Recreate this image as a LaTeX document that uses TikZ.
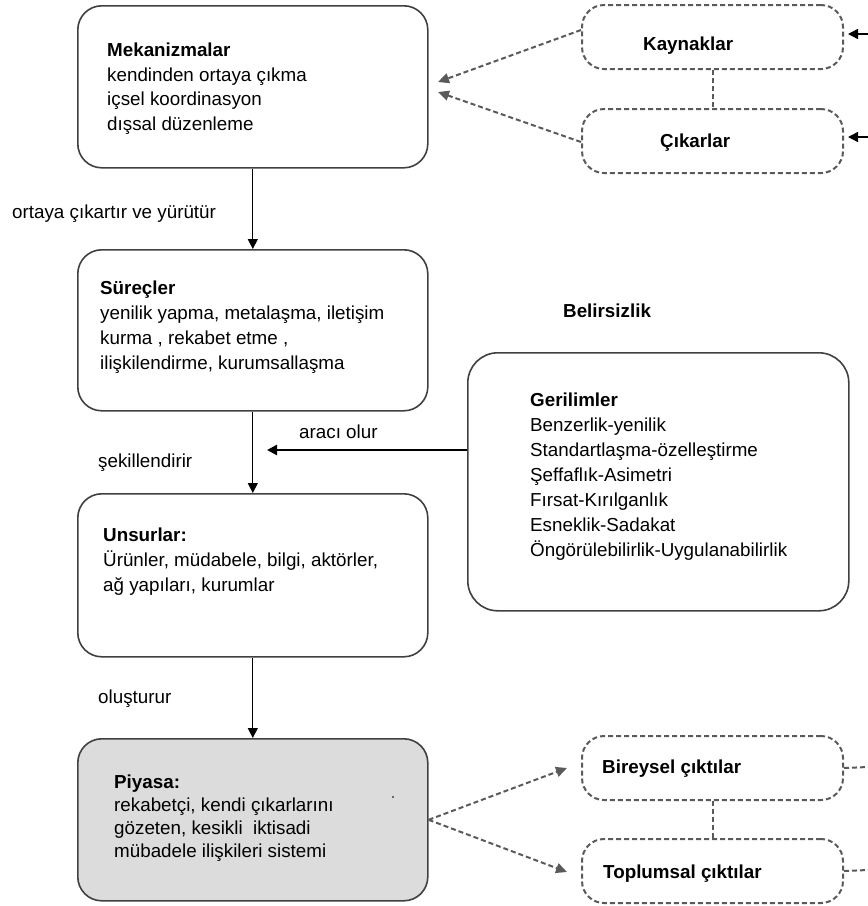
\documentclass[tikz,border=0pt]{standalone}
\usepackage{fontspec}
\setmainfont{Liberation Sans}
\usetikzlibrary{arrows.meta}
\definecolor{boxc}{HTML}{404040}
\definecolor{dashc}{HTML}{5A5A5A}
\definecolor{piyfill}{HTML}{DCDCDC}
\begin{document}
\begin{tikzpicture}[x=1pt,y=-1pt,
  box/.style={draw=boxc, line width=1.6pt, rounded corners=24pt, anchor=north west, inner sep=0pt},
  gbox/.style={box, rounded corners=30pt},
  dbox/.style={draw=dashc, line width=2pt, dash pattern=on 5pt off 3pt, rounded corners=22pt, anchor=north west, inner sep=0pt},
  txt/.style={anchor=north west, inner sep=0pt, align=left, font=\fontsize{18.8}{25}\selectfont},
  lbl/.style={anchor=base west, inner sep=0pt, font=\fontsize{18.8}{22}\selectfont},
  blbl/.style={lbl, font=\fontsize{18.8}{22}\selectfont\bfseries},
  arr/.style={draw=black, line width=1.2pt, -{Triangle[length=10pt,width=10pt]}},
  darr/.style={draw=dashc, line width=2pt, dash pattern=on 5pt off 3pt, -{Triangle[length=11pt,width=10pt]}},
  dline/.style={draw=dashc, line width=2pt, dash pattern=on 5pt off 3pt},
]
\useasboundingbox (0,0) rectangle (868,906);
% main boxes
\node[box, minimum width=350pt, minimum height=162pt] (mek) at (77,5) {};
\node[box, minimum width=350pt, minimum height=161pt] (sur) at (77,249) {};
\node[box, minimum width=350pt, minimum height=163pt] (uns) at (77,493) {};
\node[box, fill=piyfill, minimum width=350pt, minimum height=162pt] (piy) at (77,738) {};
\node[gbox, minimum width=381pt, minimum height=258pt] (ger) at (467,352) {};
% dashed boxes
\node[dbox, minimum width=261pt, minimum height=64pt] (kay) at (581,4) {};
\node[dbox, minimum width=261pt, minimum height=64pt] (cik) at (581,108) {};
\node[dbox, minimum width=261pt, minimum height=64pt] (bir) at (581,735) {};
\node[dbox, minimum width=261pt, minimum height=64pt] (top) at (581,838) {};
% texts
\node[txt, font=\fontsize{18.8}{24.5}\selectfont] (mektxt) at (107,43) {\textbf{Mekanizmalar}\\kendinden ortaya çıkma\\içsel koordinasyon\\dışsal düzenleme};
\node[txt] (surtxt) at (100,281) {\textbf{Süreçler}\\yenilik yapma, metalaşma, iletişim\\kurma , rekabet etme ,\\ilişkilendirme, kurumsallaşma};
\node[txt] (unstxt) at (103,528) {\textbf{Unsurlar:}\\Ürünler, müdabele, bilgi, aktörler,\\ağ yapıları, kurumlar};
\node[txt, font=\fontsize{18.8}{23}\selectfont] (piytxt) at (114,775) {\textbf{Piyasa:}\\rekabetçi, kendi çıkarlarını\\gözeten, kesikli\ \ iktisadi\\mübadele ilişkileri sistemi};
\node[txt] (gertxt) at (530,393) {\textbf{Gerilimler}\\Benzerlik-yenilik\\Standartlaşma-özelleştirme\\Şeffaflık-Asimetri\\Fırsat-Kırılganlık\\Esneklik-Sadakat\\Öngörülebilirlik-Uygulanabilirlik};
\node[blbl] (kaytxt) at (643,50) {Kaynaklar};
\node[blbl] (ciktxt) at (660,147) {Çıkarlar};
\node[blbl] (birtxt) at (602,773) {Bireysel çıktılar};
\node[blbl] (toptxt) at (603,878) {Toplumsal çıktılar};
\node[blbl] (belir) at (563,317) {Belirsizlik};
\node[lbl] (l1) at (12,218) {ortaya çıkartır ve yürütür};
\node[lbl] (l2) at (98,467) {şekillendirir};
\node[lbl] (l3) at (299,438) {aracı olur};
\node[lbl] (l4) at (98,703) {oluşturur};
% main arrows
\draw[arr] (mek.south) -- (sur.north);
\draw[arr] (sur.south) -- (uns.north);
\draw[arr] (uns.south) -- (piy.north);
\coordinate (aratip) at (267,450);
\draw[arr, line width=2.6pt] (ger.west |- aratip) -- (aratip);
% top dashed arrows
\coordinate (ks) at (581,30);
\coordinate (cs) at (581,142);
\coordinate (kt) at (438,82);
\coordinate (ct) at (438,92);
\draw[darr] (ks) -- (kt);
\draw[darr] (cs) -- (ct);
\draw[dline] (kay.south) -- (cik.north);
\coordinate (kin) at (868,34);
\coordinate (cin) at (868,137);
\coordinate (kine) at (848,34);
\coordinate (cine) at (848,137);
\draw[arr, line width=1.5pt] (kin) -- (kine);
\draw[arr, line width=1.5pt] (cin) -- (cine);
% bottom dashed arrows
\coordinate (bt) at (567,768);
\coordinate (tt) at (567,872);
\draw[darr] (piy.east) -- (bt);
\draw[darr] (piy.east) -- (tt);
\draw[dline] (bir.south) -- (top.north);
\coordinate (bout) at (868,767);
\coordinate (tout) at (868,870);
\draw[dline] (bir.east) -- (bout);
\draw[dline] (top.east) -- (tout);
% small dot
\fill[boxc] (393,797) circle (1.2pt);
\end{tikzpicture}
\end{document}
